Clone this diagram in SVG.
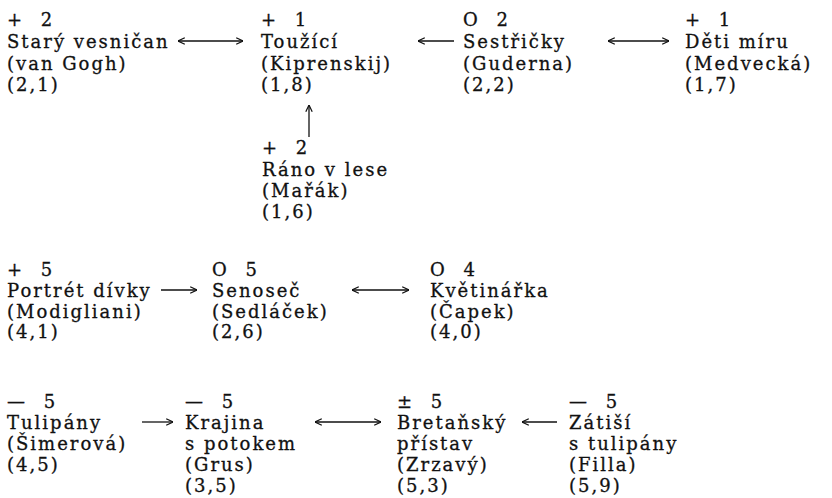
<svg xmlns="http://www.w3.org/2000/svg" width="832" height="498" viewBox="0 0 832 498">
<style>
text{font-family:"DejaVu Serif","Liberation Serif",serif;font-size:18px;letter-spacing:2px;fill:#111;stroke:#111;stroke-width:0.3}
.s{word-spacing:9px}
.c line{stroke:#111;stroke-width:1.3;fill:none}
</style>
<defs>
<marker id="ah" viewBox="0 0 10 10" refX="9.5" refY="5" markerWidth="8" markerHeight="8" markerUnits="userSpaceOnUse" orient="auto-start-reverse">
<path d="M1,1 L9.5,5 L1,9" fill="none" stroke="#111" stroke-width="1.5"/>
</marker>
</defs>
<rect width="832" height="498" fill="#fff"/>
<g id="connectors" class="c">
<line x1="178" y1="41" x2="243" y2="41" marker-start="url(#ah)" marker-end="url(#ah)"/>
<line x1="454" y1="41" x2="418" y2="41" marker-end="url(#ah)"/>
<line x1="608" y1="41" x2="669" y2="41" marker-start="url(#ah)" marker-end="url(#ah)"/>
<line x1="309" y1="137" x2="309" y2="105" marker-end="url(#ah)"/>
<line x1="161" y1="290" x2="197" y2="290" marker-end="url(#ah)"/>
<line x1="352" y1="290" x2="409" y2="290" marker-start="url(#ah)" marker-end="url(#ah)"/>
<line x1="142" y1="422" x2="173" y2="422" marker-end="url(#ah)"/>
<line x1="315" y1="422" x2="381" y2="422" marker-start="url(#ah)" marker-end="url(#ah)"/>
<line x1="557" y1="422" x2="522" y2="422" marker-end="url(#ah)"/>
</g>
<g id="n-stary-vesnican">
<text x="7" y="26" class="s">+ 2</text>
<text x="7" y="48">Starý vesničan</text>
<text x="7" y="70">(van Gogh)</text>
<text x="7" y="91">(2,1)</text>
</g>
<g id="n-touzici">
<text x="261" y="26" class="s">+ 1</text>
<text x="261" y="48">Toužící</text>
<text x="261" y="70">(Kiprenskij)</text>
<text x="261" y="91">(1,8)</text>
</g>
<g id="n-sestricky">
<text x="463" y="26" class="s">O 2</text>
<text x="463" y="48">Sestřičky</text>
<text x="463" y="70">(Guderna)</text>
<text x="463" y="91">(2,2)</text>
</g>
<g id="n-deti-miru">
<text x="685" y="26" class="s">+ 1</text>
<text x="685" y="48">Děti míru</text>
<text x="685" y="70">(Medvecká)</text>
<text x="685" y="91">(1,7)</text>
</g>
<g id="n-rano-v-lese">
<text x="262" y="154" class="s">+ 2</text>
<text x="262" y="176">Ráno v lese</text>
<text x="262" y="197">(Mařák)</text>
<text x="262" y="218">(1,6)</text>
</g>
<g id="n-portret-divky">
<text x="7" y="276" class="s">+ 5</text>
<text x="7" y="297">Portrét dívky</text>
<text x="7" y="318">(Modigliani)</text>
<text x="7" y="338">(4,1)</text>
</g>
<g id="n-senosec">
<text x="212" y="276" class="s">O 5</text>
<text x="212" y="297">Senoseč</text>
<text x="212" y="318">(Sedláček)</text>
<text x="212" y="338">(2,6)</text>
</g>
<g id="n-kvetinarka">
<text x="430" y="276" class="s">O 4</text>
<text x="430" y="297">Květinářka</text>
<text x="430" y="318">(Čapek)</text>
<text x="430" y="338">(4,0)</text>
</g>
<g id="n-tulipany">
<text x="7" y="408" class="s">— 5</text>
<text x="7" y="429">Tulipány</text>
<text x="7" y="450">(Šimerová)</text>
<text x="7" y="471">(4,5)</text>
</g>
<g id="n-krajina">
<text x="185" y="408" class="s">— 5</text>
<text x="185" y="429">Krajina</text>
<text x="185" y="450">s potokem</text>
<text x="185" y="471">(Grus)</text>
<text x="185" y="492">(3,5)</text>
</g>
<g id="n-bretansky">
<text x="397" y="408" class="s">± 5</text>
<text x="397" y="429">Bretaňský</text>
<text x="397" y="450">přístav</text>
<text x="397" y="471">(Zrzavý)</text>
<text x="397" y="492">(5,3)</text>
</g>
<g id="n-zatisi">
<text x="569" y="408" class="s">— 5</text>
<text x="569" y="429">Zátiší</text>
<text x="569" y="450">s tulipány</text>
<text x="569" y="471">(Filla)</text>
<text x="569" y="492">(5,9)</text>
</g>
</svg>
